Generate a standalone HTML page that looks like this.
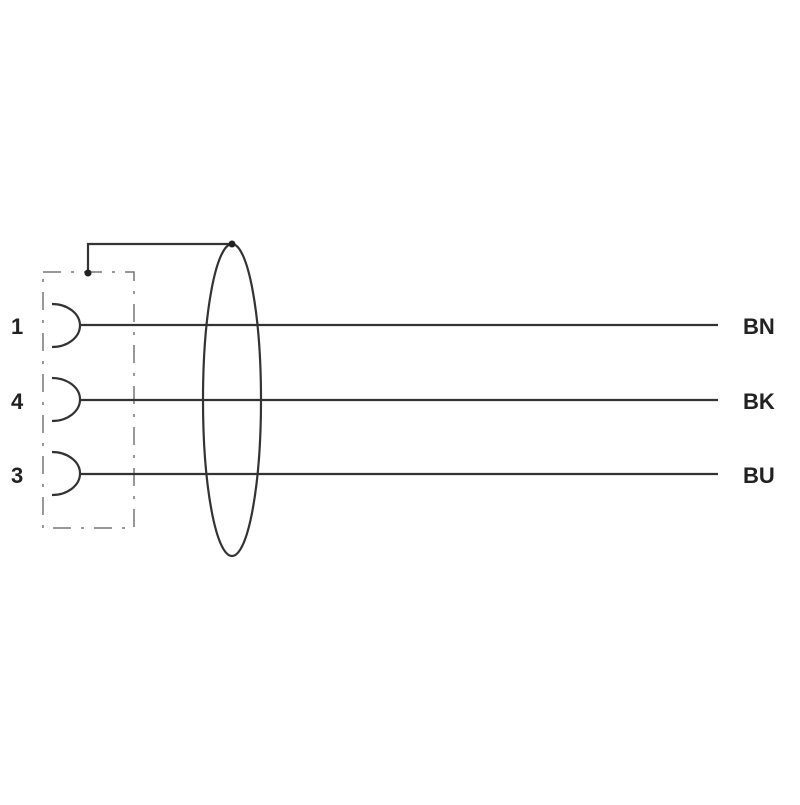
<!DOCTYPE html>
<html><head><style>body{margin:0;background:#fff}</style></head><body>
<svg width="800" height="800" xmlns="http://www.w3.org/2000/svg">
<rect width="800" height="800" fill="#fff"/>
<rect x="43" y="272" width="91" height="256" fill="none" stroke="#777" stroke-width="1.5" stroke-dasharray="18,10,3,10"/>
<g stroke="#333" stroke-width="2.2" fill="none">
<polyline points="88,273 88,244 232,244"/>
<ellipse cx="232" cy="400" rx="29" ry="156"/>
<path d="M52,304 A28,21.5 0 0 1 52,347"/>
<path d="M52,378 A28,21.5 0 0 1 52,421"/>
<path d="M52,452 A28,21.5 0 0 1 52,495"/>
<line x1="80" y1="325" x2="718" y2="325"/>
<line x1="80" y1="400" x2="718" y2="400"/>
<line x1="80" y1="474" x2="718" y2="474"/>
</g>
<circle cx="88" cy="273" r="3.5" fill="#222"/>
<circle cx="232" cy="244" r="3.5" fill="#222"/>
<g font-family="Liberation Sans, sans-serif" font-weight="bold" font-size="22" fill="#222">
<text x="11" y="334">1</text>
<text x="11" y="409">4</text>
<text x="11" y="483">3</text>
<text x="743" y="334">BN</text>
<text x="743" y="409">BK</text>
<text x="743" y="483">BU</text>
</g>
</svg>
</body></html>
